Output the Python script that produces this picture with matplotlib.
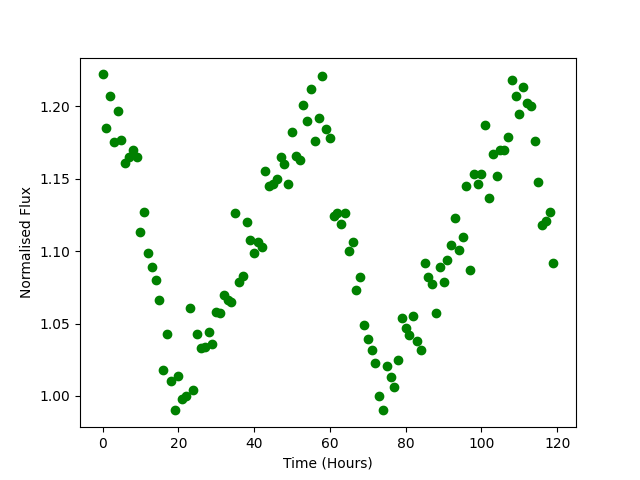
import numpy as np
import matplotlib
matplotlib.use("Agg")
import matplotlib.pyplot as plt

hours = np.arange(120)
flux = [1.222, 1.185, 1.207, 1.175, 1.197, 1.177, 1.161, 1.165, 1.170, 1.165,
        1.113, 1.127, 1.099, 1.089, 1.080, 1.066, 1.018, 1.043, 1.010, 0.990,
        1.014, 0.998, 1.000, 1.061, 1.004, 1.043, 1.033, 1.034, 1.044, 1.036,
        1.058, 1.057, 1.070, 1.066, 1.065, 1.126, 1.079, 1.083, 1.120, 1.108,
        1.099, 1.106, 1.103, 1.155, 1.145, 1.146, 1.150, 1.165, 1.160, 1.146,
        1.182, 1.166, 1.163, 1.201, 1.190, 1.212, 1.176, 1.192, 1.221, 1.184,
        1.178, 1.124, 1.126, 1.119, 1.126, 1.100, 1.106, 1.073, 1.082, 1.049,
        1.039, 1.032, 1.023, 1.000, 0.990, 1.021, 1.013, 1.006, 1.025, 1.054,
        1.047, 1.042, 1.055, 1.038, 1.032, 1.092, 1.082, 1.077, 1.057, 1.089,
        1.079, 1.094, 1.104, 1.123, 1.101, 1.110, 1.145, 1.087, 1.153, 1.146,
        1.153, 1.187, 1.137, 1.167, 1.152, 1.170, 1.170, 1.179, 1.218, 1.207,
        1.195, 1.213, 1.202, 1.200, 1.176, 1.148, 1.118, 1.121, 1.127, 1.092]

fig = plt.figure(figsize=(6.4, 4.8), dpi=100)
plt.plot(hours, flux, 'o', color='green')
plt.xlabel("Time (Hours)")
plt.ylabel("Normalised Flux")
plt.savefig("out.png")
